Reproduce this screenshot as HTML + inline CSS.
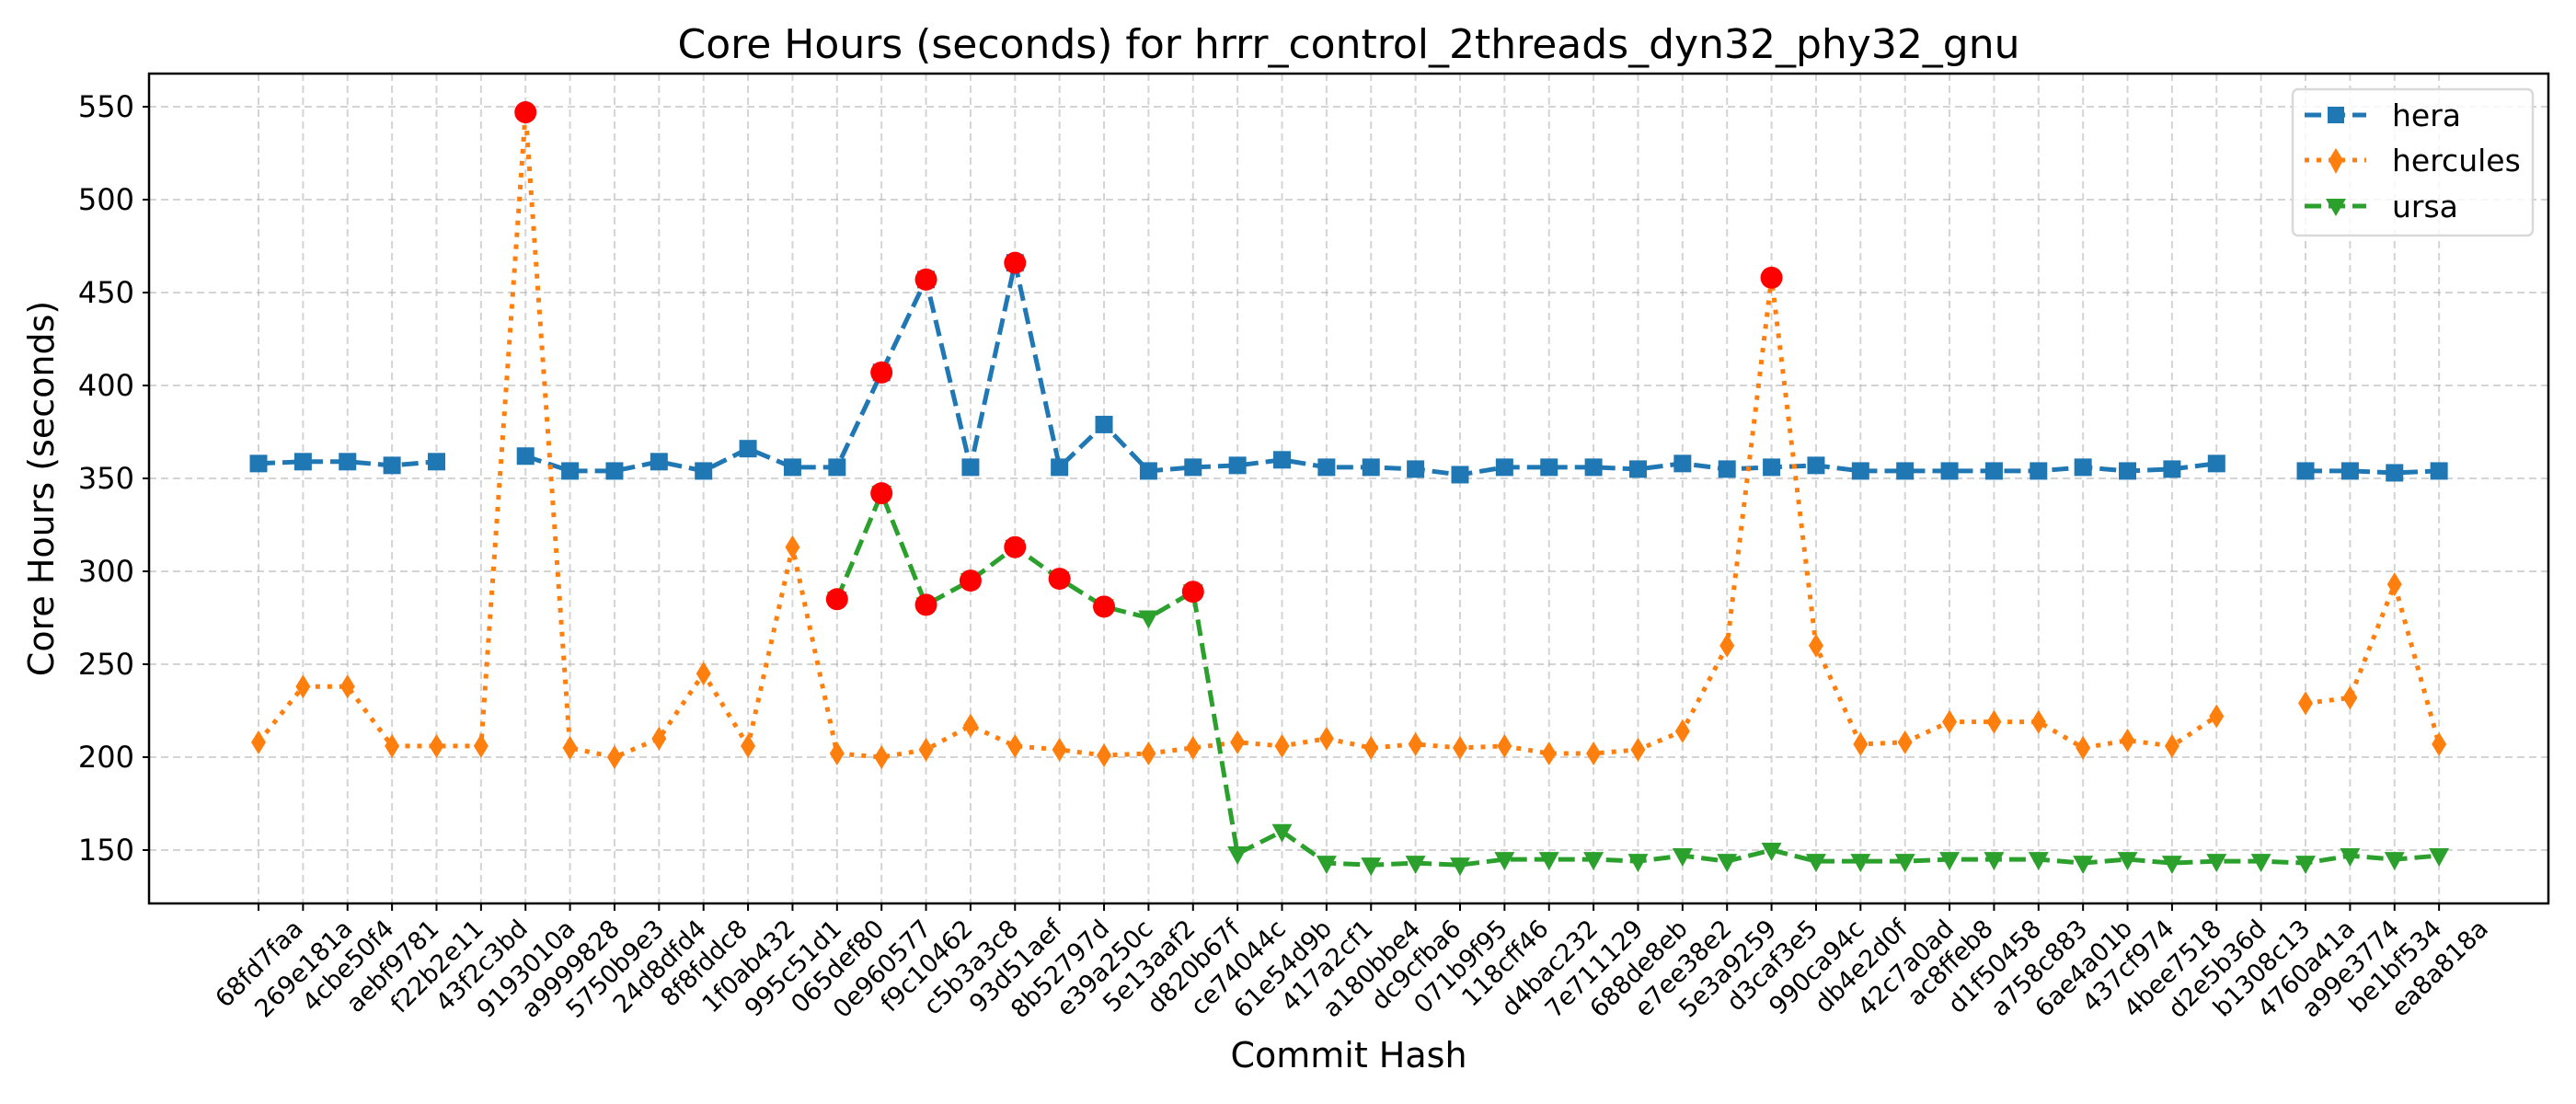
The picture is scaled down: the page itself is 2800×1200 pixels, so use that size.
<!DOCTYPE html>
<html><head><meta charset="utf-8">
<style>
html,body{margin:0;padding:0;background:#fff;}
svg{display:block;font-family:"DejaVu Sans","Liberation Sans",sans-serif;}
</style></head>
<body>
<svg id="chart" width="2800" height="1200" viewBox="0 0 2800 1200" xmlns="http://www.w3.org/2000/svg">
  <rect width="2800" height="1200" fill="#fff"/>
  <text x="1466" y="63" font-size="44" text-anchor="middle" fill="#000">Core Hours (seconds) for hrrr_control_2threads_dyn32_phy32_gnu</text>
  <g id="grid"></g>
  <g id="series"></g>
  <g id="anoms"></g>
  <rect x="162" y="80" width="2608" height="902" fill="none" stroke="#000" stroke-width="2.5"/>
  <g id="yaxis"></g>
  <g id="xaxis"></g>
  <text transform="translate(58,531) rotate(-90)" font-size="38" text-anchor="middle" fill="#000">Core Hours (seconds)</text>
  <text x="1466" y="1160" font-size="38" text-anchor="middle" fill="#000">Commit Hash</text>
  <g>
    <rect x="2492" y="97" width="261" height="159" rx="6" fill="#fff" fill-opacity="0.8" stroke="#d9d9d9" stroke-width="2.5"/>
    <g>
      <line x1="2505" y1="125" x2="2572" y2="125" stroke="#1f77b4" stroke-width="5" stroke-dasharray="18,8"/>
      <rect x="2530" y="116" width="18" height="18" fill="#1f77b4"/>
      <text x="2600" y="137" font-size="33" fill="#000">hera</text>
    </g>
    <g>
      <line x1="2505" y1="174" x2="2572" y2="174" stroke="#ff7f0e" stroke-width="5" stroke-dasharray="5,8"/>
      <path d="M2539 161 L2547 174 L2539 189 L2531 174 Z" fill="#ff7f0e"/>
      <text x="2600" y="186" font-size="33" fill="#000">hercules</text>
    </g>
    <g>
      <line x1="2505" y1="224" x2="2572" y2="224" stroke="#2ca02c" stroke-width="5" stroke-dasharray="18,8"/>
      <path d="M2528 216 L2550 216 L2539 235 Z" fill="#2ca02c"/>
      <text x="2600" y="236" font-size="33" fill="#000">ursa</text>
    </g>
  </g>
</svg>
<script>
const categories = ["68fd7faa","269e181a","4cbe50f4","aebf9781","f22b2e11","43f2c3bd","9193010a","a9999828","5750b9e3","24d8dfd4","8f8fddc8","1f0ab432","995c51d1","065def80","0e960577","f9c10462","c5b3a3c8","93d51aef","8b52797d","e39a250c","5e13aaf2","d820b67f","ce74044c","61e54d9b","417a2cf1","a180bbe4","dc9cfba6","071b9f95","118cff46","d4bac232","7e711129","688de8eb","e7ee38e2","5e3a9259","d3caf3e5","990ca94c","db4e2d0f","42c7a0ad","ac8ffeb8","d1f50458","a758c883","6ae4a01b","437cf974","4bee7518","d2e5b36d","b1308c13","4760a41a","a99e3774","be1bf534","ea8a818a"];
const heraValues = [358,359,359,357,359,null,362,354,354,359,354,366,356,356,407,457,356,466,356,379,354,356,357,360,356,356,355,352,356,356,356,355,358,355,356,357,354,354,354,354,354,356,354,355,358,null,354,354,353,354];
const herculesValues = [208,238,238,206,206,206,547,205,200,210,245,206,313,202,200,204,217,206,204,201,202,205,208,206,210,205,207,205,206,202,202,204,214,260,458,260,207,208,219,219,219,205,209,206,222,null,229,232,293,207];
const ursaValues = [null,null,null,null,null,null,null,null,null,null,null,null,null,285,342,282,295,313,296,281,275,289,148,160,143,142,143,142,145,145,145,144,147,144,150,144,144,144,145,145,145,143,145,143,144,144,143,147,145,147];
const heraAnomalies = [14,15,17];
const herculesAnomalies = [6,34];
const ursaAnomalies = [13,14,15,16,17,18,19,21];
const yTicks = [150,200,250,300,350,400,450,500,550];

const NS = "http://www.w3.org/2000/svg";
const X0 = 281, DX = 48.37;
const xPos = i => X0 + i * DX;
const yPos = v => 116 + (550 - v) * 2.02;
function mk(tag, attrs, parent) {
  const e = document.createElementNS(NS, tag);
  for (const k in attrs) e.setAttribute(k, attrs[k]);
  parent.appendChild(e);
  return e;
}
const grid = document.getElementById('grid');
const yaxis = document.getElementById('yaxis');
const xaxis = document.getElementById('xaxis');
yTicks.forEach(t => {
  const y = yPos(t);
  const g = mk('line', {x1:162, x2:2770, y1:y, y2:y, stroke:'#b0b0b0', 'stroke-opacity':0.55, 'stroke-width':2, 'stroke-dasharray':'8,5'}, grid);
  
  
  const tk = mk('line', {x1:155, x2:162, y1:y, y2:y, stroke:'#000', 'stroke-width':2}, yaxis);
  
  
  const tx = mk('text', {x:146, y:y + 11, 'font-size':32, 'text-anchor':'end', fill:'#000'}, yaxis);
  tx.textContent = t;
  
  
});
categories.forEach((c, i) => {
  const x = xPos(i);
  const g = mk('line', {x1:x, x2:x, y1:80, y2:982, stroke:'#b0b0b0', 'stroke-opacity':0.55, 'stroke-width':2, 'stroke-dasharray':'8,5'}, grid);
  
  
  const tk = mk('line', {x1:x, x2:x, y1:982, y2:990, stroke:'#000', 'stroke-width':2}, xaxis);
  
  
  const tx = mk('text', {'font-size':27, 'text-anchor':'middle', fill:'#000'}, xaxis);
  tx.textContent = c;
  
  
  const L = tx.getComputedTextLength ? tx.getComputedTextLength() : 140;
  const h = 20;
  const bb = (L + h) * 0.7071;
  const cy = 997 + bb / 2;
  tx.setAttribute('transform', `translate(${x},${cy}) rotate(-45) translate(0,${h/2})`);
});

const series = document.getElementById('series');
function drawSeries(vals, color, dash, name, marker) {
  let d = '', pen = false;
  vals.forEach((v, i) => {
    if (v === null) { pen = false; return; }
    d += (pen ? 'L' : 'M') + xPos(i).toFixed(1) + ' ' + yPos(v).toFixed(1) + ' ';
    pen = true;
  });
  const p = mk('path', {d:d, fill:'none', stroke:color, 'stroke-width':5, 'stroke-dasharray':dash}, series);
  
  
  vals.forEach((v, i) => {
    if (v === null) return;
    const x = xPos(i), y = yPos(v);
    let m;
    if (marker === 'square') m = mk('rect', {x:x - 9.5, y:y - 9.5, width:19, height:19, fill:color}, series);
    else if (marker === 'diamond') m = mk('path', {d:`M${x} ${y-13}L${x+8} ${y}L${x} ${y+13}L${x-8} ${y}Z`, fill:color}, series);
    else m = mk('path', {d:`M${x-11} ${y-8}L${x+11} ${y-8}L${x} ${y+12}Z`, fill:color}, series);
    
    
  });
}
drawSeries(heraValues, '#1f77b4', '18,8', 'hera', 'square');
drawSeries(herculesValues, '#ff7f0e', '5,8', 'hercules', 'diamond');
drawSeries(ursaValues, '#2ca02c', '18,8', 'ursa', 'triangle');

const anoms = document.getElementById('anoms');
[[heraValues, heraAnomalies], [herculesValues, herculesAnomalies], [ursaValues, ursaAnomalies]].forEach(([vals, idx]) => {
  idx.forEach(i => {
    const c = mk('circle', {cx:xPos(i), cy:yPos(vals[i]), r:12, fill:'#ff0000'}, anoms);
    
    
  });
});
</script>
</body></html>
